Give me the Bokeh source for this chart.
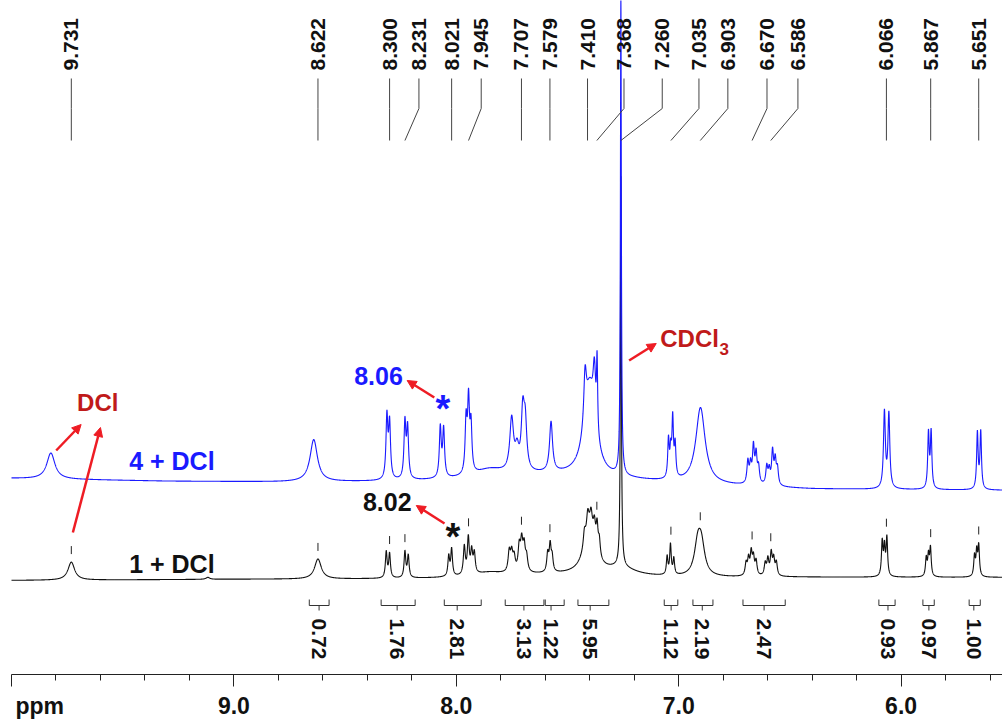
import numpy as np
from bokeh.plotting import figure
from bokeh.models import Range1d, FixedTicker, CustomJSTickFormatter, LinearAxis, Arrow, NormalHead
from bokeh.core.properties import value
from bokeh.embed import file_html
from bokeh.resources import INLINE

# ---------------- data ----------------
# trace "1 + DCl" (black): peak centres (ppm), heights, half-widths (ppm)
black_ppm = [9.731, 9.117, 8.622, 8.315, 8.300, 8.231, 8.216, 8.034, 8.021,
             7.964, 7.946, 7.931, 7.919, 7.850,
             7.762, 7.751, 7.740, 7.717, 7.706, 7.695, 7.684,
             7.589, 7.578, 7.569,
             7.400, 7.424, 7.409, 7.394, 7.379, 7.367, 7.357,
             7.260, 7.260, 7.600,
             7.052, 7.037, 7.022, 6.914, 6.898,
             6.697, 6.686, 6.674, 6.664, 6.652,
             6.611, 6.599, 6.584, 6.573, 6.561,
             6.085, 6.075, 6.064, 5.887, 5.877, 5.868, 5.670, 5.660, 5.651]
black_height = [18, 2, 20, 26, 24, 26, 22, 20, 27,
                28, 36, 22, 20, 4,
                20, 18, 14, 24, 28, 24, 14,
                18, 26, 14,
                45, 15, 18, 16, 20, 26, 16,
                390, 8, 4,
                18, 30, 16, 30, 28,
                12, 16, 22, 17, 14,
                12, 16, 22, 16, 13,
                34, 28, 38, 18, 20, 28, 20, 24, 30]
black_hwhm = [0.018, 0.01, 0.018, 0.0045, 0.0045, 0.0045, 0.0045, 0.0045, 0.0045,
              0.005, 0.005, 0.005, 0.005, 0.08,
              0.006, 0.006, 0.006, 0.006, 0.006, 0.006, 0.006,
              0.005, 0.005, 0.005,
              0.03, 0.006, 0.006, 0.006, 0.006, 0.005, 0.005,
              0.0025, 0.08, 0.35,
              0.004, 0.004, 0.004, 0.018, 0.018,
              0.005, 0.005, 0.005, 0.005, 0.005,
              0.005, 0.005, 0.005, 0.005, 0.005,
              0.004, 0.004, 0.004, 0.004, 0.004, 0.004, 0.004, 0.004, 0.004]
black_base_ppm = [10.0, 9.0, 8.0, 7.0, 6.5, 5.54]
black_base_level = [94, 95, 95, 96, 97, 97]

# trace "4 + DCl" (blue)
blue_ppm = [9.823, 8.641, 8.312, 8.300, 8.231, 8.219, 8.072, 8.057,
            7.956, 7.945, 7.934, 7.850,
            7.751, 7.727, 7.701, 7.690, 7.574,
            7.400, 7.421, 7.379, 7.367, 7.260, 7.600,
            7.046, 7.036, 7.027, 7.016, 6.902,
            6.689, 6.677, 6.664, 6.652, 6.641,
            6.604, 6.593, 6.578, 6.566, 6.556,
            6.075, 6.055, 5.877, 5.865, 5.657, 5.642]
blue_height = [26, 42, 62, 55, 56, 50, 50, 48,
               52, 70, 46, 8,
               52, 20, 56, 45, 50,
               88, 50, 55, 72, 480, 8,
               38, 25, 58, 32, 76,
               22, 18, 36, 28, 16,
               18, 14, 33, 24, 16,
               76, 74, 55, 56, 56, 57]
blue_hwhm = [0.022, 0.02, 0.005, 0.005, 0.005, 0.005, 0.005, 0.005,
             0.005, 0.005, 0.005, 0.08,
             0.01, 0.01, 0.008, 0.008, 0.008,
             0.03, 0.007, 0.007, 0.003, 0.0025, 0.35,
             0.004, 0.004, 0.004, 0.004, 0.025,
             0.005, 0.005, 0.005, 0.005, 0.005,
             0.005, 0.005, 0.005, 0.005, 0.005,
             0.005, 0.005, 0.004, 0.004, 0.004, 0.004]
blue_base_ppm = [10.0, 9.3, 8.8, 7.2, 6.4, 5.54]
blue_base_level = [196, 193, 192, 191, 185, 184]

# peak-pick labels (ppm) and where their text sits
peak_labels = [9.731, 8.622, 8.300, 8.231, 8.021, 7.945, 7.707, 7.579, 7.410,
               7.368, 7.260, 7.035, 6.903, 6.670, 6.586, 6.066, 5.867, 5.651]
label_text_ppm = [9.731, 8.622, 8.300, 8.168, 8.021, 7.888, 7.707, 7.579, 7.410,
                  7.246, 7.074, 6.909, 6.779, 6.603, 6.464, 6.066, 5.867, 5.651]
# small tick marks drawn above the black trace
mark_ppm = [9.731, 8.622, 8.300, 8.231, 7.945, 7.707, 7.579, 7.368,
            7.035, 6.903, 6.670, 6.586, 6.066, 5.867, 5.651]

# integrals
integral_start = [8.661, 8.338, 8.054, 7.780, 7.600, 7.453, 7.065, 6.936, 6.711, 6.100, 5.902, 5.694]
integral_end = [8.572, 8.185, 7.888, 7.606, 7.515, 7.314, 7.004, 6.846, 6.521, 6.027, 5.851, 5.644]
integral_center = [8.617, 8.266, 7.996, 7.696, 7.574, 7.398, 7.034, 6.894, 6.616, 6.059, 5.875, 5.673]
integral_values = ["0.72", "1.76", "2.81", "3.13", "1.22", "5.95", "1.12", "2.19", "2.47", "0.93", "0.97", "1.00"]

major_ticks = [10.0, 9.0, 8.0, 7.0, 6.0]
minor_ticks = [5.6, 5.8, 6.2, 6.4, 6.6, 6.8, 7.2, 7.4, 7.6, 7.8, 8.2, 8.4, 8.6, 8.8, 9.2, 9.4, 9.6, 9.8]
label_ticks = [9.873, 9.0, 8.0, 7.0, 6.0]   # "ppm" + numbered ticks

# ---------------- build traces ----------------
grid = np.arange(5.53, 10.005, 0.0005)


def trace(pos, hgt, wid, bppm, blev):
    y = np.interp(grid, bppm[::-1], blev[::-1])
    for c, a, g in zip(pos, hgt, wid):
        y = y + a * g * g / (g * g + (grid - c) ** 2)
    return y


black_y = trace(black_ppm, black_height, black_hwhm, black_base_ppm, black_base_level)
blue_y = trace(blue_ppm, blue_height, blue_hwhm, blue_base_ppm, blue_base_level)

FONT = "Liberation Sans"
RED_TXT = "#c01a1a"
RED = "#ee1c24"
BLUE = "#1a1aff"

p = figure(frame_width=991, frame_height=674, output_backend="svg", toolbar_location=None,
           x_range=Range1d(10.0, 10.0 - 991 / 222.4), y_range=Range1d(0, 674),
           y_axis_location=None, min_border_left=11, min_border_right=0, min_border_top=0,
           min_border_bottom=49)
p.outline_line_color = None
p.grid.visible = False
p.background_fill_color = "white"

# axis line + ticks
ax = p.xaxis[0]
ax.ticker = FixedTicker(ticks=major_ticks, minor_ticks=minor_ticks)
ax.formatter = CustomJSTickFormatter(code="return '';")
ax.major_tick_out = 12
ax.major_tick_in = 0
ax.minor_tick_out = 6
ax.minor_tick_in = 0
ax.axis_line_color = "#222222"
ax.major_tick_line_color = "#222222"
ax.minor_tick_line_color = "#222222"
ax.axis_line_width = 1.2
ax.major_label_standoff = 0

# tick labels (and "ppm") on a second axis without line/ticks
ax2 = LinearAxis(ticker=FixedTicker(ticks=label_ticks, minor_ticks=[]),
                 formatter=CustomJSTickFormatter(code="return tick > 9.5 ? 'ppm' : tick.toFixed(1);"))
ax2.axis_line_color = None
ax2.major_tick_line_color = None
ax2.minor_tick_line_color = None
ax2.major_tick_out = 0
ax2.major_tick_in = 0
ax2.major_label_standoff = 6
ax2.major_label_text_font = FONT
ax2.major_label_text_font_style = "bold"
ax2.major_label_text_font_size = "23px"
ax2.major_label_text_color = "#111111"
p.add_layout(ax2, "below")

# spectra
p.line(grid, black_y, line_color="#111111", line_width=1.1)
p.line(grid, blue_y, line_color=BLUE, line_width=1.1)

# peak marks over the black trace
mx, my = [], []
for m in mark_ppm:
    sel = np.abs(grid - m) < 0.008
    top = black_y[sel].max()
    mx.append([m, m])
    my.append([top + 8, top + 16])
p.multi_line(mx, my, line_color="#222222", line_width=1)

# peak label leaders
lx, ly = [], []
for pk, tx in zip(peak_labels, label_text_ppm):
    lx.append([tx, tx, pk])
    ly.append([596, 566, 534])
p.multi_line(lx, ly, line_color="#444444", line_width=1)
p.text(x=label_text_ppm, y=[604] * len(peak_labels), text=["%.3f" % v for v in peak_labels],
       angle=np.pi / 2, text_align="left", text_baseline="middle",
       text_font=value(FONT), text_font_style="bold", text_font_size="21px", text_color="#111111")

# integrals
bx, by = [], []
for s, e, c in zip(integral_start, integral_end, integral_center):
    bx.append([s, s, e, e])
    by.append([75, 69, 69, 75])
    bx.append([c, c])
    by.append([69, 64])
p.multi_line(bx, by, line_color="#333333", line_width=1)
p.text(x=integral_center, y=[56] * len(integral_center), text=integral_values,
       angle=-np.pi / 2, text_align="left", text_baseline="middle",
       text_font=value(FONT), text_font_style="bold", text_font_size="21px", text_color="#111111")


def txt(x, y, s, color, size, align="left", baseline="middle"):
    p.text(x=[x], y=[y], text=[s], text_align=align, text_baseline=baseline,
           text_font=value(FONT), text_font_style="bold", text_font_size=size, text_color=color)


def arrow(x0, y0, x1, y1):
    p.add_layout(Arrow(end=NormalHead(size=9, fill_color=RED, line_color=RED),
                       x_start=x0, y_start=y0, x_end=x1, y_end=y1,
                       line_color=RED, line_width=2.5))


# annotations
txt(9.705, 272, "DCl", RED_TXT, "24px")
arrow(9.799, 224, 9.687, 250)
arrow(9.724, 142, 9.600, 247)
txt(9.471, 214, "4 + DCl", BLUE, "25px")
txt(9.471, 111, "1 + DCl", "#111111", "25px")
txt(8.459, 299, "8.06", BLUE, "25px")
txt(8.060, 266, "*", BLUE, "38px", align="center")
arrow(8.099, 277, 8.221, 294)
txt(8.420, 173, "8.02", "#111111", "25px")
txt(8.015, 138, "*", "#111111", "38px", align="center")
arrow(8.053, 151, 8.180, 169)
txt(7.083, 336, "CDCl", RED_TXT, "24px")
txt(6.817, 326, "3", RED_TXT, "17px")
arrow(7.223, 314, 7.101, 331)

open("out.html", "w").write(file_html(p, INLINE))
